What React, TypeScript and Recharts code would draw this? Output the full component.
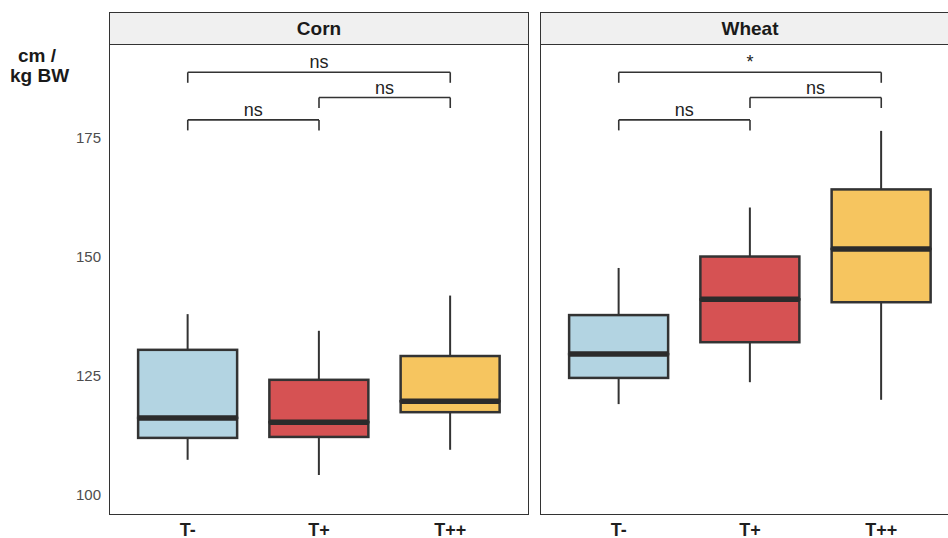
import { Bar, ComposedChart, ReferenceLine, XAxis, YAxis } from 'recharts'

const FONT = '"Liberation Sans", Arial, sans-serif'

const categories = ['T-', 'T+', 'T++']
const boxColors = ['#b3d4e2', '#d65253', '#f6c55f']
const yTicks = [100, 125, 150, 175]
const Y_DOMAIN: [number, number] = [95.8, 194.75]

// Corn
const cornMin = [107.4, 104.2, 109.5]
const cornQ1 = [112.0, 112.2, 117.4]
const cornMedian = [116.2, 115.3, 119.7]
const cornQ3 = [130.5, 124.2, 129.2]
const cornMax = [138.0, 134.5, 141.9]

// Wheat
const wheatMin = [119.1, 123.7, 120.0]
const wheatQ1 = [124.6, 132.1, 140.5]
const wheatMedian = [129.6, 141.1, 151.7]
const wheatQ3 = [137.8, 150.1, 164.2]
const wheatMax = [147.7, 160.4, 176.5]

interface Bracket {
  from: string
  to: string
  y: number
  label: string
}

const cornBrackets: Bracket[] = [
  { from: 'T-', to: 'T++', y: 188.8, label: 'ns' },
  { from: 'T+', to: 'T++', y: 183.5, label: 'ns' },
  { from: 'T-', to: 'T+', y: 178.8, label: 'ns' },
]

const wheatBrackets: Bracket[] = [
  { from: 'T-', to: 'T++', y: 188.8, label: '*' },
  { from: 'T+', to: 'T++', y: 183.5, label: 'ns' },
  { from: 'T-', to: 'T+', y: 178.8, label: 'ns' },
]

const TICK_LEN = 2.2

function buildRows(min: number[], q1: number[], med: number[], q3: number[], max: number[]) {
  return categories.map((cat, i) => ({
    cat,
    base: min[i],
    lowWhisker: q1[i] - min[i],
    lowBox: med[i] - q1[i],
    highBox: q3[i] - med[i],
    highWhisker: max[i] - q3[i],
  }))
}

const cornRows = buildRows(cornMin, cornQ1, cornMedian, cornQ3, cornMax)
const wheatRows = buildRows(wheatMin, wheatQ1, wheatMedian, wheatQ3, wheatMax)

const Whisker = (props: any) => {
  const { x, y, width, height } = props
  const cx = x + width / 2
  return <line x1={cx} x2={cx} y1={y} y2={y + height} stroke="#333" strokeWidth={2} />
}

const LowBox = (props: any) => {
  const { x, y, width, height, index } = props
  return (
    <rect
      x={x}
      y={y}
      width={width}
      height={height}
      fill={boxColors[index]}
      stroke="#333"
      strokeWidth={2.5}
    />
  )
}

const HighBox = (props: any) => {
  const { x, y, width, height, index } = props
  return (
    <g>
      <rect
        x={x}
        y={y}
        width={width}
        height={height}
        fill={boxColors[index]}
        stroke="#333"
        strokeWidth={2.5}
      />
      <line x1={x} x2={x + width} y1={y + height} y2={y + height} stroke="#2b2b2b" strokeWidth={5.5} />
    </g>
  )
}

interface PanelProps {
  rows: ReturnType<typeof buildRows>
  brackets: Bracket[]
  showY: boolean
  left: number
  width: number
  marginLeft: number
}

function Panel({ rows, brackets, showY, left, width, marginLeft }: PanelProps) {
  return (
    <div style={{ position: 'absolute', left, top: 0 }}>
      <ComposedChart
        width={width}
        height={538}
        data={rows}
        margin={{ top: 44, right: 1, bottom: 0, left: marginLeft }}
      >
        <XAxis
          dataKey="cat"
          padding={{ left: 13.125, right: 13.125 }}
          axisLine={false}
          tickLine={false}
          height={23}
          interval={0}
          tick={{ fill: '#1f1f1f', fontSize: 18, fontWeight: 700 }}
        />
        <YAxis
          domain={Y_DOMAIN}
          allowDataOverflow
          ticks={yTicks}
          hide={!showY}
          width={60}
          axisLine={false}
          tickLine={false}
          tick={{ fill: '#4d4d4d', fontSize: 15 }}
        />
        <Bar dataKey="base" stackId="box" barSize={99} shape={() => <g />} isAnimationActive={false} />
        <Bar dataKey="lowWhisker" stackId="box" barSize={99} shape={Whisker} isAnimationActive={false} />
        <Bar dataKey="lowBox" stackId="box" barSize={99} shape={LowBox} isAnimationActive={false} />
        <Bar dataKey="highBox" stackId="box" barSize={99} shape={HighBox} isAnimationActive={false} />
        <Bar dataKey="highWhisker" stackId="box" barSize={99} shape={Whisker} isAnimationActive={false} />
        {brackets.map((b) => (
          <ReferenceLine
            key={`h-${b.from}-${b.to}`}
            segment={[
              { x: b.from, y: b.y },
              { x: b.to, y: b.y },
            ]}
            stroke="#333"
            strokeWidth={1.6}
            label={{ value: b.label, position: 'top', offset: 4, fill: '#222', fontSize: 18 }}
          />
        ))}
        {brackets.flatMap((b) =>
          [b.from, b.to].map((c) => (
            <ReferenceLine
              key={`t-${b.from}-${b.to}-${c}`}
              segment={[
                { x: c, y: b.y },
                { x: c, y: b.y - TICK_LEN },
              ]}
              stroke="#333"
              strokeWidth={1.6}
            />
          )),
        )}
      </ComposedChart>
    </div>
  )
}

const frameStyle = {
  position: 'absolute' as const,
  top: 12,
  height: 503,
  width: 420,
  border: '1.6px solid #333',
  boxSizing: 'border-box' as const,
  pointerEvents: 'none' as const,
}

const stripStyle = {
  position: 'absolute' as const,
  top: 12,
  height: 33,
  width: 420,
  background: '#f0f0f0',
  border: '1.6px solid #333',
  boxSizing: 'border-box' as const,
  display: 'flex',
  alignItems: 'center',
  justifyContent: 'center',
  fontWeight: 700,
  fontSize: 19,
  color: '#1a1a1a',
}

export default function App() {
  return (
    <div
      style={{
        position: 'absolute',
        left: 0,
        top: 0,
        width: 948,
        height: 538,
        overflow: 'hidden',
        background: '#fff',
        fontFamily: FONT,
      }}
    >
      <Panel rows={cornRows} brackets={cornBrackets} showY left={0} width={530} marginLeft={49} />
      <Panel rows={wheatRows} brackets={wheatBrackets} showY={false} left={540} width={421} marginLeft={0} />
      <div style={{ ...frameStyle, left: 109 }} />
      <div style={{ ...frameStyle, left: 540 }} />
      <div style={{ ...stripStyle, left: 109 }}>Corn</div>
      <div style={{ ...stripStyle, left: 540 }}>Wheat</div>
      <svg width={100} height={100} style={{ position: 'absolute', left: 0, top: 0 }}>
        <text x={18} y={62} fontSize={19} fontWeight={700} fill="#1a1a1a">
          cm /
        </text>
        <text x={10} y={82} fontSize={19} fontWeight={700} fill="#1a1a1a">
          kg BW
        </text>
      </svg>
    </div>
  )
}
